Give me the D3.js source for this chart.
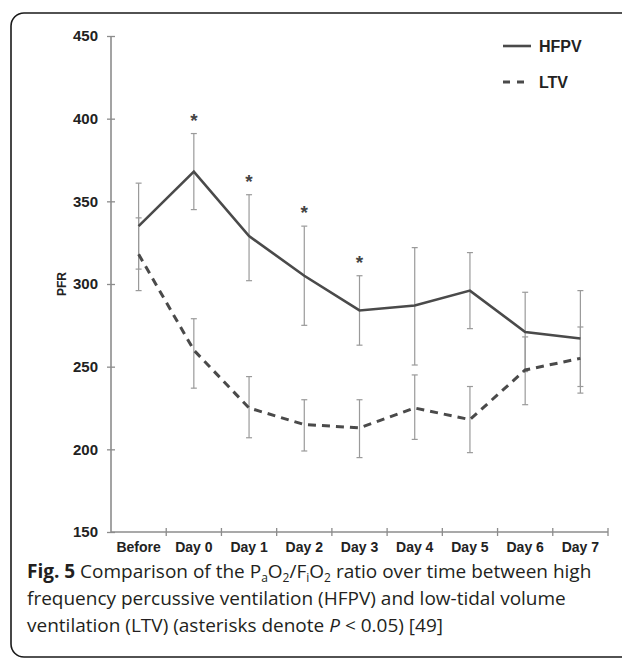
<!DOCTYPE html>
<html>
<head>
<meta charset="utf-8">
<script src="https://cdn.jsdelivr.net/npm/d3@7"></script>
<style>
  body { margin: 0; background: #fff; }
  svg { display: block; }
</style>
</head>
<body>
<div id="pfr_chart"></div>
<script>
// PFR over time - HFPV vs LTV

// data
const categories = ["Before", "Day 0", "Day 1", "Day 2", "Day 3", "Day 4", "Day 5", "Day 6", "Day 7"]
const hfpvMean  = [335, 368, 329, 305, 284, 287, 296, 271, 267]
const hfpvUpper = [361, 391, 354, 335, 305, 322, 319, 295, 296]
const hfpvLower = [309, 345, 302, 275, 263, 251, 273, 247, 238]
const ltvMean  = [318, 260, 225, 215, 213, 225, 218, 248, 255]
const ltvUpper = [340, 279, 244, 230, 230, 245, 238, 268, 274]
const ltvLower = [296, 237, 207, 199, 195, 206, 198, 227, 234]
const significant = ["Day 0", "Day 1", "Day 2", "Day 3"]
const yTicks = [150, 200, 250, 300, 350, 400, 450]

const width = 622,
    height = 664;

const plot = {left: 111, right: 608, top: 36, bottom: 532}

const lineColor = "#4a4a4a"
const axisColor = "#8c8c8c"
const labelFont = "'Liberation Sans', Arial, sans-serif"

let svg = d3.select("#pfr_chart")
  .append("svg")
    .attr("width", width)
    .attr("height", height);

// rounded frame round the figure
svg.append("rect")
  .attr("x", 11)
  .attr("y", 13)
  .attr("width", 700)
  .attr("height", 644)
  .attr("rx", 13)
  .attr("fill", "none")
  .attr("stroke", "#1a1a1a")
  .attr("stroke-width", 1.6);

// scales
const x = d3.scaleBand()
  .domain(categories)
  .range([plot.left, plot.right])
  .padding(0)

const y = d3.scaleLinear()
  .domain([150, 450])
  .range([plot.bottom, plot.top])

const cx = d => x(d) + x.bandwidth() / 2

// y axis
let yAxis = svg.append("g")
  .attr("transform", `translate(${plot.left},0)`)
  .call(d3.axisLeft(y).tickValues(yTicks).tickSize(4).tickPadding(9))
yAxis.select(".domain").remove()
yAxis.append("line")
  .attr("y1", y(450)).attr("y2", y(150))
  .attr("stroke", axisColor).attr("stroke-width", 1.6)
yAxis.selectAll(".tick line")
  .attr("x1", 4)
  .attr("x2", -4)
  .attr("stroke", axisColor)
  .attr("stroke-width", 1.3)
yAxis.selectAll(".tick text")
  .attr("fill", "#222")
  .style("font-family", labelFont)
  .style("font-size", "15px")
  .style("font-weight", "bold")

// x axis - ticks on band edges, labels at the band centres
let xAxis = svg.append("g")
  .attr("transform", `translate(0,${plot.bottom})`)
xAxis.append("line")
  .attr("x1", plot.left).attr("x2", plot.right)
  .attr("stroke", axisColor).attr("stroke-width", 1.6)
xAxis.selectAll("edgeTicks")
  .data(categories.slice(1).concat(["end"]))
  .join("line")
    .attr("x1", (d, i) => i < categories.length - 1 ? x(d) : plot.right)
    .attr("x2", (d, i) => i < categories.length - 1 ? x(d) : plot.right)
    .attr("y1", -4)
    .attr("y2", 4)
    .attr("stroke", axisColor)
    .attr("stroke-width", 1.3)
xAxis.selectAll("xLabels")
  .data(categories)
  .join("text")
    .attr("x", d => cx(d))
    .attr("y", 20)
    .attr("text-anchor", "middle")
    .attr("fill", "#222")
    .style("font-family", labelFont)
    .style("font-size", "14px")
    .style("font-weight", "bold")
    .text(d => d)

// y axis title
svg.append("text")
  .attr("transform", `translate(66,${(plot.top + plot.bottom) / 2}) rotate(-90)`)
  .attr("text-anchor", "middle")
  .attr("fill", "#222")
  .style("font-family", labelFont)
  .style("font-size", "12px")
  .style("font-weight", "bold")
  .text("PFR")

// error bars
const series = [
  {name: "HFPV", mean: hfpvMean, upper: hfpvUpper, lower: hfpvLower, dash: null, width: 2.6},
  {name: "LTV", mean: ltvMean, upper: ltvUpper, lower: ltvLower, dash: "8,6", width: 3}
]

series.forEach(s => {
  const bars = categories.map((c, i) => ({c: c, lo: s.lower[i], hi: s.upper[i]}))
  let g = svg.append("g").attr("stroke", "#9a9a9a").attr("stroke-width", 1.2)
  g.selectAll("vbar").data(bars).join("line")
    .attr("x1", d => cx(d.c)).attr("x2", d => cx(d.c))
    .attr("y1", d => y(d.lo)).attr("y2", d => y(d.hi))
  g.selectAll("capHi").data(bars).join("line")
    .attr("x1", d => cx(d.c) - 3).attr("x2", d => cx(d.c) + 3)
    .attr("y1", d => y(d.hi)).attr("y2", d => y(d.hi))
  g.selectAll("capLo").data(bars).join("line")
    .attr("x1", d => cx(d.c) - 3).attr("x2", d => cx(d.c) + 3)
    .attr("y1", d => y(d.lo)).attr("y2", d => y(d.lo))
})

// the two mean lines
const line = d3.line()
  .x(d => cx(d[0]))
  .y(d => y(d[1]))

series.forEach(s => {
  svg.append("path")
    .datum(categories.map((c, i) => [c, s.mean[i]]))
    .attr("d", line)
    .attr("fill", "none")
    .attr("stroke", lineColor)
    .attr("stroke-width", s.width)
    .attr("stroke-dasharray", s.dash)
})

// asterisks over the HFPV bars
svg.selectAll("stars")
  .data(significant)
  .join("text")
    .attr("x", d => cx(d))
    .attr("y", d => y(hfpvUpper[categories.indexOf(d)]) - 7)
    .attr("text-anchor", "middle")
    .attr("fill", "#444")
    .style("font-family", labelFont)
    .style("font-size", "19px")
    .style("font-weight", "bold")
    .text("*")

// legend
let legend = svg.append("g")
legend.selectAll("legendItems")
  .data(series)
  .join("line")
    .attr("x1", 503)
    .attr("x2", 531)
    .attr("y1", (d, i) => 46 + i * 36)
    .attr("y2", (d, i) => 46 + i * 36)
    .attr("stroke", lineColor)
    .attr("stroke-width", d => d.width)
    .attr("stroke-dasharray", d => d.dash ? "7,7" : null)
legend.selectAll("legendText")
  .data(series)
  .join("text")
    .attr("x", 539)
    .attr("y", (d, i) => 46 + i * 36)
    .attr("dy", "0.36em")
    .attr("fill", "#222")
    .style("font-family", labelFont)
    .style("font-size", "16px")
    .style("font-weight", "bold")
    .text(d => d.name)

// caption
const captionFont = "'Open Sans', 'Noto Sans', sans-serif"
let caption = svg.append("text")
  .attr("fill", "#231f20")
  .style("font-family", captionFont)
  .style("font-size", "19px")

let l1 = caption.append("tspan").attr("x", 27).attr("y", 578)
l1.append("tspan").style("font-weight", "bold").text("Fig. 5")
l1.append("tspan").text(" Comparison of the P")
l1.append("tspan").attr("dy", 4).style("font-size", "12px").text("a")
l1.append("tspan").attr("dy", -4).text("O")
l1.append("tspan").attr("dy", 4).style("font-size", "12px").text("2")
l1.append("tspan").attr("dy", -4).text("/F")
l1.append("tspan").attr("dy", 4).style("font-size", "12px").text("i")
l1.append("tspan").attr("dy", -4).text("O")
l1.append("tspan").attr("dy", 4).style("font-size", "12px").text("2")
l1.append("tspan").attr("dy", -4).text(" ratio over time between high")

caption.append("tspan").attr("x", 27).attr("y", 605)
  .text("frequency percussive ventilation (HFPV) and low-tidal volume")

let l3 = caption.append("tspan").attr("x", 27).attr("y", 632)
l3.append("tspan").text("ventilation (LTV) (asterisks denote ")
l3.append("tspan").style("font-style", "italic").text("P")
l3.append("tspan").text(" < 0.05) [49]")
</script>
</body>
</html>
